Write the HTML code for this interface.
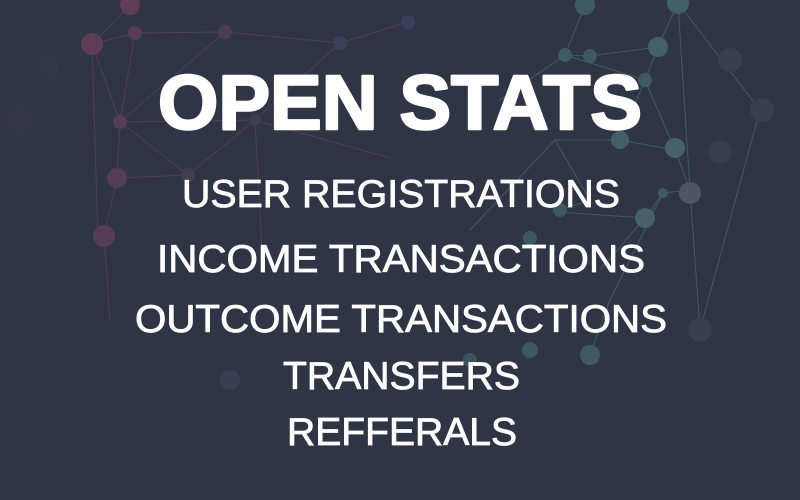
<!DOCTYPE html>
<html><head><meta charset="utf-8"><style>
html,body{margin:0;padding:0;background:#2f3545;}
svg{display:block}
text{font-family:"Liberation Sans",sans-serif;fill:#fff;}
</style></head><body>
<svg width="800" height="500" viewBox="0 0 800 500">
<rect width="800" height="500" fill="#2f3545"/>
<g stroke="#5a3e55" stroke-width="1" fill="none" opacity="0.9">
<path d="M92 44 L130 5 M92 44 L135 33 M92 44 L120 122 L117 178 L104 236 M135 33 L120 122 M135 33 L225 32 L340 43 M225 32 L120 122 M120 122 L255 120 L340 43 M120 122 L188 175 M117 178 L188 175 M104 236 L110 320 M255 120 L188 175 M255 120 L262 250 M255 120 L390 158 M340 43 L408 22 M92 44 L98 240"/>
</g>
<g stroke="#3f5c66" stroke-width="1" fill="none">
<path d="M585 5 L565 55 L590 56 L658 47 L678 3 L690 190 M565 55 L645 80 L620 140 L555 140 L590 200 L560 210 M658 47 L645 80 M645 80 L675 150 L690 190 L663 193 L645 218 L557 212 M620 140 L675 150 M690 190 L700 330 M663 193 L610 300 L590 355 M500 100 L565 55 M555 140 L470 230 M645 218 L600 270 M678 3 L760 110 L700 330"/>
</g>
<g>
<circle cx="130" cy="5" r="10" fill="#5f3e55"/>
<circle cx="92" cy="44" r="11" fill="#5f3e55"/>
<circle cx="135" cy="33" r="7" fill="#593d53"/>
<circle cx="225" cy="32" r="7" fill="#4a3d52"/>
<circle cx="340" cy="43" r="7" fill="#3e3f58"/>
<circle cx="408" cy="22" r="7" fill="#3d3f5a"/>
<circle cx="120" cy="122" r="7" fill="#553d53"/>
<circle cx="255" cy="120" r="6" fill="#3d3d55"/>
<circle cx="117" cy="178" r="10" fill="#553d53"/>
<circle cx="188" cy="175" r="7" fill="#453c50"/>
<circle cx="104" cy="236" r="11" fill="#553d53"/>
<circle cx="20" cy="122" r="12" fill="#363546"/>
<circle cx="50" cy="65" r="10" fill="#343546"/>
<circle cx="230" cy="380" r="10" fill="#3b3d55"/>
<circle cx="585" cy="5" r="10" fill="#3e5a65"/>
<circle cx="678" cy="3" r="11" fill="#426068"/>
<circle cx="565" cy="55" r="7" fill="#3f5a64"/>
<circle cx="590" cy="56" r="7" fill="#3f5a64"/>
<circle cx="658" cy="47" r="10" fill="#446168"/>
<circle cx="645" cy="80" r="7" fill="#3f5a64"/>
<circle cx="620" cy="140" r="9" fill="#435f66"/>
<circle cx="675" cy="148" r="10" fill="#466268"/>
<circle cx="690" cy="193" r="11" fill="#4d5762"/>
<circle cx="663" cy="193" r="5" fill="#3f5a64"/>
<circle cx="645" cy="218" r="10" fill="#466268"/>
<circle cx="560" cy="210" r="7" fill="#3f5864"/>
<circle cx="530" cy="238" r="7" fill="#3e5862"/>
<circle cx="730" cy="60" r="12" fill="#38404c"/>
<circle cx="762" cy="110" r="12" fill="#373f4c"/>
<circle cx="720" cy="152" r="12" fill="#363e4b"/>
<circle cx="590" cy="355" r="10" fill="#3f5a64"/>
<circle cx="530" cy="350" r="8" fill="#3d5862"/>
<circle cx="700" cy="330" r="12" fill="#37404c"/>
<circle cx="470" cy="360" r="7" fill="#3c5460"/>
</g>
<text x="158" y="129" textLength="484" lengthAdjust="spacingAndGlyphs" font-size="77" font-weight="bold" stroke="#fff" stroke-width="2.5" stroke-linejoin="round">OPEN STATS</text>
<g stroke="#fff" stroke-width="0.8">
<text x="182" y="207" textLength="438" lengthAdjust="spacingAndGlyphs" font-size="39">USER REGISTRATIONS</text>
<text x="157" y="272" textLength="488" lengthAdjust="spacingAndGlyphs" font-size="39">INCOME TRANSACTIONS</text>
<text x="135" y="332" textLength="532" lengthAdjust="spacingAndGlyphs" font-size="39">OUTCOME TRANSACTIONS</text>
<text x="283" y="389" textLength="237" lengthAdjust="spacingAndGlyphs" font-size="39">TRANSFERS</text>
<text x="287" y="445" textLength="230" lengthAdjust="spacingAndGlyphs" font-size="39">REFFERALS</text>
</g>
</svg>
</body></html>
